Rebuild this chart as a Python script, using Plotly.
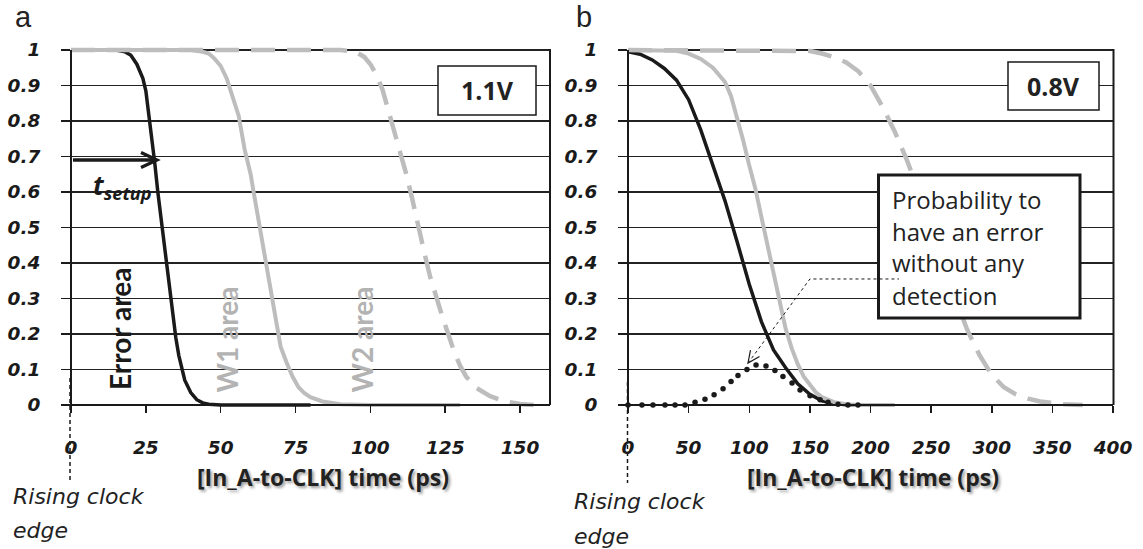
import plotly.graph_objects as go

W, H = 1143, 549


def px(x):
    return x / W


def py(y):
    return 1 - y / H


# ---------------- data: panel a (1.1V) ----------------
a_err_x = [0, 15, 18, 20, 22, 24, 25, 26, 27, 28, 29, 30, 31, 32, 33, 34, 35, 36, 37, 38, 40, 42, 44, 46, 50, 60, 80]
a_err_y = [1, 1, 0.995, 0.985, 0.96, 0.92, 0.885, 0.82, 0.75, 0.68, 0.6, 0.53, 0.46, 0.39, 0.32, 0.25, 0.19, 0.14,
           0.1, 0.07, 0.035, 0.015, 0.006, 0.002, 0, 0, 0]

a_w1_x = [0, 40, 44, 46, 48, 50, 52, 54, 56, 58, 60, 61, 62, 63, 64, 65, 66, 67, 68, 69, 70, 72, 74, 76, 78, 80, 84,
          90, 100, 130]
a_w1_y = [1, 1, 0.995, 0.99, 0.975, 0.955, 0.92, 0.87, 0.815, 0.72, 0.65, 0.6, 0.55, 0.5, 0.45, 0.41, 0.36, 0.3,
          0.25, 0.2, 0.165, 0.12, 0.08, 0.05, 0.033, 0.022, 0.01, 0.002, 0, 0]

a_w2_x = [0, 90, 95, 98, 100, 102, 104, 106, 108, 110, 112, 114, 116, 118, 120, 122, 124, 126, 128, 130, 132, 135,
          140, 145, 150, 155]
a_w2_y = [1, 1, 0.995, 0.98, 0.96, 0.93, 0.89, 0.83, 0.77, 0.72, 0.65, 0.58, 0.5, 0.43, 0.36, 0.3, 0.25, 0.2, 0.15,
          0.11, 0.08, 0.05, 0.025, 0.01, 0.003, 0]

# ---------------- data: panel b (0.8V) ----------------
b_err_x = [0, 10, 20, 30, 40, 50, 60, 70, 80, 90, 100, 110, 120, 130, 140, 150, 160, 170, 180, 200]
b_err_y = [0.995, 0.988, 0.972, 0.948, 0.915, 0.86, 0.775, 0.675, 0.575, 0.46, 0.34, 0.235, 0.155, 0.105, 0.06,
           0.03, 0.012, 0.004, 0.001, 0]

b_w1_x = [0, 40, 50, 60, 70, 75, 80, 85, 90, 95, 100, 105, 110, 115, 120, 125, 130, 135, 140, 145, 150, 155, 160,
          170, 180, 190, 220]
b_w1_y = [1, 0.998, 0.99, 0.975, 0.95, 0.93, 0.91, 0.87, 0.81, 0.745, 0.675, 0.61, 0.53, 0.45, 0.37, 0.29, 0.215,
          0.16, 0.115, 0.08, 0.055, 0.035, 0.022, 0.008, 0.002, 0, 0]

b_w2_x = [0, 140, 150, 160, 170, 180, 190, 200, 210, 220, 230, 240, 250, 260, 270, 280, 290, 300, 310, 320, 330,
          340, 350, 360, 375]
b_w2_y = [1, 1, 0.997, 0.99, 0.98, 0.965, 0.94, 0.9, 0.84, 0.77, 0.69, 0.6, 0.5, 0.4, 0.3, 0.21, 0.14, 0.085, 0.05,
          0.03, 0.018, 0.01, 0.005, 0.002, 0]

b_und_x = [0, 11.5, 20.6, 30.5, 38.8, 47, 55.3, 63.5, 71, 78.4, 85, 90.7, 98.1, 105.6, 113.8, 121.2, 127.8, 135.3,
           141.9, 150.1, 158.4, 165, 173.2, 181.4, 189.7]
b_und_y = [0, 0, 0, 0, 0, 0, 0.008, 0.016, 0.029, 0.046, 0.066, 0.083, 0.1, 0.113, 0.11, 0.097, 0.08, 0.062, 0.042,
           0.026, 0.015, 0.008, 0.002, 0, 0]

# ---------------- ticks / labels ----------------
xa_ticks = [0, 25, 50, 75, 100, 125, 150]
xb_ticks = [0, 50, 100, 150, 200, 250, 300, 350, 400]
y_ticks = [0, 0.1, 0.2, 0.3, 0.4, 0.5, 0.6, 0.7, 0.8, 0.9, 1.0]
y_tick_text = ["0", "0.1", "0.2", "0.3", "0.4", "0.5", "0.6", "0.7", "0.8", "0.9", "1"]
x_title = "[In_A-to-CLK] time (ps)"
volt_a = "1.1V"
volt_b = "0.8V"
note_lines = ["Probability to", "have an error", "without any", "detection"]

BLACK = "#1a1a1a"
GREY = "#BDBDBD"
GREY_TXT = "#B3B3B3"

fig = go.Figure()

# panel a traces
fig.add_trace(go.Scatter(x=a_err_x, y=a_err_y, mode="lines", line=dict(color=BLACK, width=3.5),
                         xaxis="x", yaxis="y", hoverinfo="skip"))
fig.add_trace(go.Scatter(x=a_w1_x, y=a_w1_y, mode="lines", line=dict(color=GREY, width=4),
                         xaxis="x", yaxis="y", hoverinfo="skip"))
fig.add_trace(go.Scatter(x=a_w2_x, y=a_w2_y, mode="lines", line=dict(color=GREY, width=4.5, dash="24px,12px"),
                         xaxis="x", yaxis="y", hoverinfo="skip"))

# panel b traces
fig.add_trace(go.Scatter(x=b_err_x, y=b_err_y, mode="lines", line=dict(color=BLACK, width=3.5),
                         xaxis="x2", yaxis="y2", hoverinfo="skip"))
fig.add_trace(go.Scatter(x=b_w1_x, y=b_w1_y, mode="lines", line=dict(color=GREY, width=4),
                         xaxis="x2", yaxis="y2", hoverinfo="skip"))
fig.add_trace(go.Scatter(x=b_w2_x, y=b_w2_y, mode="lines", line=dict(color=GREY, width=4.5, dash="24px,12px"),
                         xaxis="x2", yaxis="y2", hoverinfo="skip"))
fig.add_trace(go.Scatter(x=b_und_x, y=b_und_y, mode="markers", marker=dict(color=BLACK, size=5.5),
                         xaxis="x2", yaxis="y2", hoverinfo="skip", cliponaxis=False))

TICKFONT = dict(family="DejaVu Sans", size=18.5, weight="bold", style="italic", color=BLACK)

ydom = [py(410.325), py(44.675)]
common_x = dict(anchor="free", position=py(405), showline=True, linecolor=BLACK, linewidth=2,
                ticks="outside", ticklen=7, tickwidth=1.5, tickcolor=BLACK, showgrid=False, zeroline=False,
                tickfont=TICKFONT, ticklabelstandoff=19, fixedrange=True, automargin=False)
common_y = dict(domain=ydom, range=[-0.015, 1.015], tickmode="array", tickvals=y_ticks, ticktext=y_tick_text,
                showgrid=True, gridcolor="#222222", gridwidth=1.5, zeroline=False, showline=False,
                ticks="outside", ticklen=9, tickwidth=1.5, tickcolor=BLACK, tickfont=TICKFONT,
                ticklabelstandoff=17, fixedrange=True, automargin=False)

fig.update_layout(
    width=W, height=H, margin=dict(l=0, r=0, t=0, b=0, pad=0, autoexpand=False),
    paper_bgcolor="white", plot_bgcolor="white", showlegend=False,
    xaxis=dict(domain=[px(71), px(550)], range=[0, 160], tickmode="array", tickvals=xa_ticks, **common_x),
    yaxis=dict(anchor="x", **common_y),
    xaxis2=dict(domain=[px(628), px(1113)], range=[0, 400], tickmode="array", tickvals=xb_ticks, **common_x),
    yaxis2=dict(anchor="x2", **common_y),
)

shapes = []
LINE = dict(type="line", xref="paper", yref="paper")
# left axis lines & right borders
for xl, xr in [(71, 550), (628, 1113.5)]:
    shapes.append(dict(LINE, x0=px(xl), x1=px(xl), y0=py(50), y1=py(412), line=dict(color=BLACK, width=2)))
    shapes.append(dict(LINE, x0=px(xr), x1=px(xr), y0=py(49), y1=py(405), line=dict(color=BLACK, width=2)))
# rising clock edge dashed markers
shapes.append(dict(LINE, x0=px(70), x1=px(70), y0=py(378), y1=py(482),
                   line=dict(color=BLACK, width=1.5, dash="4px,3px")))
shapes.append(dict(LINE, x0=px(627.5), x1=px(627.5), y0=py(382), y1=py(483),
                   line=dict(color=BLACK, width=1.5, dash="4px,3px")))
# voltage boxes
shapes.append(dict(type="rect", xref="paper", yref="paper", x0=px(438), x1=px(536), y0=py(115), y1=py(66),
                   fillcolor="white", line=dict(color=BLACK, width=1.5), layer="above"))
shapes.append(dict(type="rect", xref="paper", yref="paper", x0=px(1008), x1=px(1099), y0=py(110), y1=py(62),
                   fillcolor="white", line=dict(color=BLACK, width=1.5), layer="above"))
# note box
shapes.append(dict(type="rect", xref="paper", yref="paper", x0=px(878.5), x1=px(1080), y0=py(318), y1=py(175),
                   fillcolor="white", line=dict(color=BLACK, width=3), layer="above"))
# dotted connector
shapes.append(dict(type="path", xref="x2", yref="y2", path="M 99,0.118 L 150,0.355 L 223.5,0.355",
                   line=dict(color=BLACK, width=1, dash="dot"), layer="above"))
# connector arrowhead (open V)
shapes.append(dict(type="path", xref="paper", yref="paper",
                   path="M %f,%f L %f,%f L %f,%f" % (px(759.5), py(356.5), px(748), py(363),
                                                      px(750.5), py(350.2)),
                   line=dict(color=BLACK, width=1.2), layer="above"))
# t_setup arrow
shapes.append(dict(LINE, x0=px(73), x1=px(155), y0=py(160), y1=py(160), line=dict(color=BLACK, width=3.5),
                   layer="above"))
shapes.append(dict(type="path", xref="paper", yref="paper",
                   path="M %f,%f L %f,%f L %f,%f" % (px(141), py(152.5), px(157), py(160), px(141), py(167.5)),
                   line=dict(color=BLACK, width=3.2), layer="above"))

annotations = []
# panel letters
LFONT = dict(family="Liberation Sans", size=29, color="#222")
annotations.append(dict(text="a", x=px(13), y=py(17), xref="paper", yref="paper", xanchor="left", yanchor="middle",
                        showarrow=False, font=LFONT))
annotations.append(dict(text="b", x=px(574), y=py(17), xref="paper", yref="paper", xanchor="left",
                        yanchor="middle", showarrow=False, font=LFONT))
# axis titles with shadow
TITLEFONT = dict(family="Open Sans", size=23, weight="bold", color="#222",
                 shadow="2px 2px 3px rgba(0,0,0,0.4)")
annotations.append(dict(text=x_title, x=px(323), y=py(477), xref="paper", yref="paper", xanchor="center",
                        yanchor="middle", showarrow=False, font=TITLEFONT))
annotations.append(dict(text=x_title, x=px(873), y=py(477), xref="paper", yref="paper", xanchor="center",
                        yanchor="middle", showarrow=False, font=TITLEFONT))
# rising clock edge
RFONT = dict(family="DejaVu Sans", size=22, style="italic", color="#222")
for xl, yl1, yl2 in [(11, 496, 530), (572, 501, 536)]:
    annotations.append(dict(text="Rising clock", x=px(xl), y=py(yl1), xref="paper", yref="paper",
                            xanchor="left", yanchor="middle", showarrow=False, font=RFONT))
    annotations.append(dict(text="edge", x=px(xl), y=py(yl2), xref="paper", yref="paper",
                            xanchor="left", yanchor="middle", showarrow=False, font=RFONT))
# voltage labels
VFONT = dict(family="Open Sans", size=25, weight="bold", color="#222")
annotations.append(dict(text=volt_a, x=px(487), y=py(90), xref="paper", yref="paper", xanchor="center",
                        yanchor="middle", showarrow=False, font=VFONT))
annotations.append(dict(text=volt_b, x=px(1053.5), y=py(86), xref="paper", yref="paper", xanchor="center",
                        yanchor="middle", showarrow=False, font=VFONT))
# note text
NFONT = dict(family="Open Sans", size=24, color="#222")
for i, line in enumerate(note_lines):
    annotations.append(dict(text=line, x=px(890), y=py(199 + 32 * i), xref="paper", yref="paper",
                            xanchor="left", yanchor="middle", showarrow=False, font=NFONT))
# rotated area labels
AFONT_B = dict(family="Lato", size=28, weight="bold", color=BLACK)
AFONT_G = dict(family="Lato", size=28, weight="bold", color=GREY_TXT)
annotations.append(dict(text="Error area", x=px(120), y=py(329), xref="paper", yref="paper", textangle=-90,
                        xanchor="center", yanchor="middle", showarrow=False, font=AFONT_B))
annotations.append(dict(text="W1 area", x=px(226), y=py(339.5), xref="paper", yref="paper", textangle=-90,
                        xanchor="center", yanchor="middle", showarrow=False, font=AFONT_G))
annotations.append(dict(text="W2 area", x=px(361), y=py(339.5), xref="paper", yref="paper", textangle=-90,
                        xanchor="center", yanchor="middle", showarrow=False, font=AFONT_G))
# t_setup label
annotations.append(dict(text="<b><i>t<sub>setup</sub></i></b>", x=px(91), y=py(186), xref="paper", yref="paper",
                        xanchor="left", yanchor="middle", showarrow=False,
                        font=dict(family="Open Sans", size=26, color=BLACK)))

fig.update_layout(shapes=shapes, annotations=annotations)

fig.write_html("out.html", config={"displayModeBar": False, "staticPlot": True},
               post_script="document.body.style.margin='0';document.body.style.overflow='hidden';")
